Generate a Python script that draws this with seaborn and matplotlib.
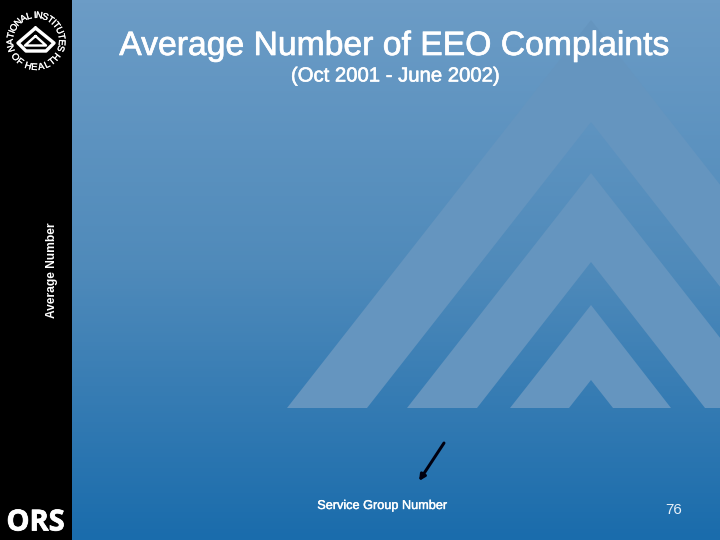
import numpy as np
import matplotlib
matplotlib.use('Agg')
import matplotlib.pyplot as plt
import matplotlib.patheffects as pe
from matplotlib.patches import Polygon, Rectangle
from matplotlib.colors import LinearSegmentedColormap
from matplotlib.font_manager import FontProperties
from matplotlib.textpath import TextPath
import seaborn as sns

# The slide has no data marks, only its labels
TITLE = 'Average Number of EEO Complaints'
SUBTITLE = '(Oct 2001 - June 2002)'
Y_LABEL = 'Average Number'
X_LABEL = 'Service Group Number'
PAGE = '76'
LOGO_TOP = 'NATIONAL INSTITUTES'
LOGO_BOTTOM = 'OF HEALTH'
BRAND = 'ORS'

BG_COLOURS = ['#6c9cc6', '#4f8aba', '#1a6cac']
BAND_COLOUR = '#6595bf'

sns.set_theme(style='white')
plt.rcParams['font.family'] = ['Liberation Sans', 'DejaVu Sans']

fig = plt.figure(figsize=(10, 7.5), dpi=72)
ax = fig.add_axes([0, 0, 1, 1])

# Background gradient, pixel coordinates from here on
cmap = LinearSegmentedColormap.from_list('slide', BG_COLOURS)
ax.imshow(np.linspace(0, 1, 540).reshape(-1, 1), cmap=cmap, aspect='auto',
          extent=(0, 720, 540, 0), zorder=0)

# Watermark chevrons
chevrons = [
    [(287, 408), (591, 20), (895, 408), (815, 408), (591, 122), (367, 408)],
    [(407, 408), (591, 173), (775, 408), (705, 408), (591, 262), (477, 408)],
    [(510, 408), (591, 305), (671, 408), (613, 408), (591, 380), (569, 408)],
]
for points in chevrons:
    ax.add_patch(Polygon(points, closed=True, fc=BAND_COLOUR, ec='none', zorder=1))

# Black side bar
ax.add_patch(Rectangle((0, 0), 72, 540, fc='black', ec='none', zorder=2))

# Logo emblem
ax.plot([35.5, 18, 26, 46, 54, 35.5], [28, 43, 51, 51, 43, 28], color='white',
        lw=3.4, solid_joinstyle='round', zorder=3)
ax.plot([35.5, 25, 46, 35.5], [36, 45.5, 45.5, 36], color='white', lw=2.4,
        solid_joinstyle='round', zorder=3)


def bold_edge(width):
    return [pe.withStroke(linewidth=width, foreground='white')]


def curved_text(text, start, end, radius, size, flip=False):
    # Space the letters by their own widths along the arc
    font = FontProperties(family='Liberation Sans')
    widths = [TextPath((0, 0), c, size=size, prop=font).get_extents().width + 1
              if c != ' ' else 3 for c in text]
    centres = np.cumsum(widths) - np.array(widths) / 2
    fractions = (centres - centres[0]) / (centres[-1] - centres[0])
    for letter, frac in zip(text, fractions):
        angle = start + (end - start) * frac
        rad = np.radians(angle)
        x = 36 + radius * np.cos(rad)
        y = 41 - radius * np.sin(rad)
        rot = angle + 90 if flip else angle - 90
        ax.text(x, y, letter, color='white', fontsize=size, rotation=rot,
                rotation_mode='anchor', ha='center', va='center', zorder=3,
                path_effects=bold_edge(0.25))


curved_text(LOGO_TOP, 197, -17, 26, 9.5)
curved_text(LOGO_BOTTOM, 218, 322, 26, 9.5, flip=True)

ax.text(35.5, 523, BRAND, color='white', fontsize=29, fontweight='bold',
        family=['Open Sans', 'DejaVu Sans'], ha='center', va='center', zorder=3,
        path_effects=bold_edge(0.8))

# Slide text
ax.text(394.5, 46.5, TITLE, color='white', fontsize=33.7, ha='center', va='center',
        zorder=4, path_effects=bold_edge(0.7))
ax.text(395, 76, SUBTITLE, color='white', fontsize=20.3, ha='center', va='center',
        zorder=4, path_effects=bold_edge(0.6))
ax.text(51.5, 270, Y_LABEL, color='white', fontsize=12, fontweight='bold', rotation=90,
        ha='center', va='center', zorder=4)
ax.text(382.5, 506, X_LABEL, color='white', fontsize=12.7, ha='center', va='center',
        zorder=4, path_effects=bold_edge(0.4))
ax.text(673.5, 510, PAGE, color='#e8f0f8', fontsize=15, ha='center', va='center', zorder=4)

# Arrow
ax.annotate('', xy=(419, 481), xytext=(444, 443),
            arrowprops=dict(arrowstyle='-|>', color='#000010', lw=3, mutation_scale=12,
                            shrinkA=0, shrinkB=0), zorder=4)

ax.set_xlim(0, 720)
ax.set_ylim(540, 0)
ax.axis('off')
fig.savefig('out.png', dpi=72)
